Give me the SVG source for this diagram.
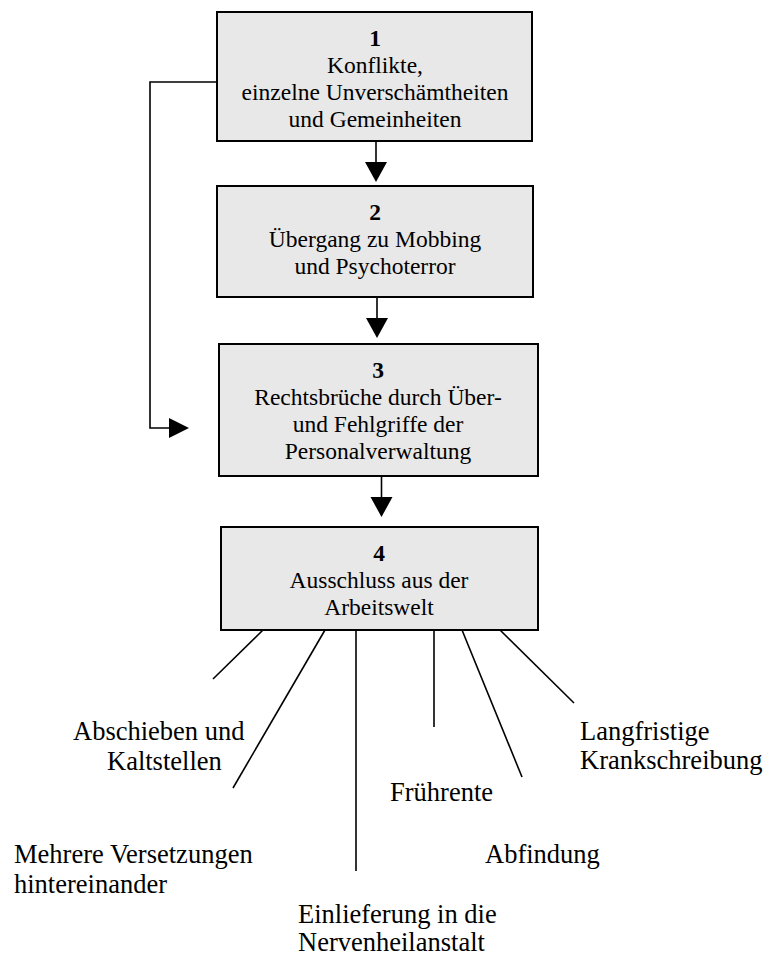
<svg xmlns="http://www.w3.org/2000/svg" width="765" height="955" viewBox="0 0 765 955">
<style>
.box{fill:#e8e8e8;stroke:#000;stroke-width:2}
.t{font-family:"Liberation Serif","Times New Roman",serif;font-size:23.5px;fill:#000;text-anchor:middle}
.b{font-weight:bold}
.l{font-family:"Liberation Serif","Times New Roman",serif;font-size:26.5px;fill:#000}
.c{stroke:#000;stroke-width:1.6;fill:none}
.h{fill:#000;stroke:none}
</style>
<rect width="765" height="955" fill="#fff"/>
<g id="node1">
<rect class="box" x="217" y="12" width="315" height="129"/>
<text class="t b" x="375" y="46">1</text>
<text class="t" x="375" y="73">Konflikte,</text>
<text class="t" x="375" y="100">einzelne Unverschämtheiten</text>
<text class="t" x="375" y="127">und Gemeinheiten</text>
</g>
<g id="node2">
<rect class="box" x="217" y="186" width="316" height="111"/>
<text class="t b" x="375" y="220">2</text>
<text class="t" x="375" y="247">Übergang zu Mobbing</text>
<text class="t" x="375" y="274">und Psychoterror</text>
</g>
<g id="node3">
<rect class="box" x="219" y="344" width="319" height="132"/>
<text class="t b" x="378" y="378">3</text>
<text class="t" x="378" y="405">Rechtsbrüche durch Über-</text>
<text class="t" x="378" y="432">und Fehlgriffe der</text>
<text class="t" x="378" y="459">Personalverwaltung</text>
</g>
<g id="node4">
<rect class="box" x="221" y="527" width="317" height="103"/>
<text class="t b" x="379" y="561">4</text>
<text class="t" x="379" y="588">Ausschluss aus der</text>
<text class="t" x="379" y="615">Arbeitswelt</text>
</g>
<g id="connectors">
<line class="c" x1="376" y1="141" x2="376" y2="163"/>
<polygon class="h" points="365,162 387,162 376,182"/>
<line class="c" x1="377" y1="297" x2="377" y2="319"/>
<polygon class="h" points="366,318 388,318 377,338"/>
<line class="c" x1="381.5" y1="476" x2="381.5" y2="498"/>
<polygon class="h" points="370.5,497 392.5,497 381.5,517"/>
<polyline class="c" points="217,82 150,82 150,428 170,428"/>
<polygon class="h" points="169,418 169,438 189,428"/>
<line class="c" x1="263" y1="630" x2="213" y2="679"/>
<line class="c" x1="325" y1="630" x2="233" y2="788"/>
<line class="c" x1="356" y1="630" x2="356" y2="871"/>
<line class="c" x1="434" y1="630" x2="434" y2="727"/>
<line class="c" x1="462" y1="630" x2="522" y2="777"/>
<line class="c" x1="500" y1="630" x2="574" y2="703"/>
</g>
<g id="labels">
<text class="l" x="73" y="740">Abschieben und</text>
<text class="l" x="107" y="770">Kaltstellen</text>
<text class="l" x="14" y="863">Mehrere Versetzungen</text>
<text class="l" x="14" y="893">hintereinander</text>
<text class="l" x="298" y="923">Einlieferung in die</text>
<text class="l" x="298" y="951">Nervenheilanstalt</text>
<text class="l" x="390" y="801">Frührente</text>
<text class="l" x="485" y="863">Abfindung</text>
<text class="l" x="580" y="740">Langfristige</text>
<text class="l" x="580" y="769">Krankschreibung</text>
</g>
</svg>
